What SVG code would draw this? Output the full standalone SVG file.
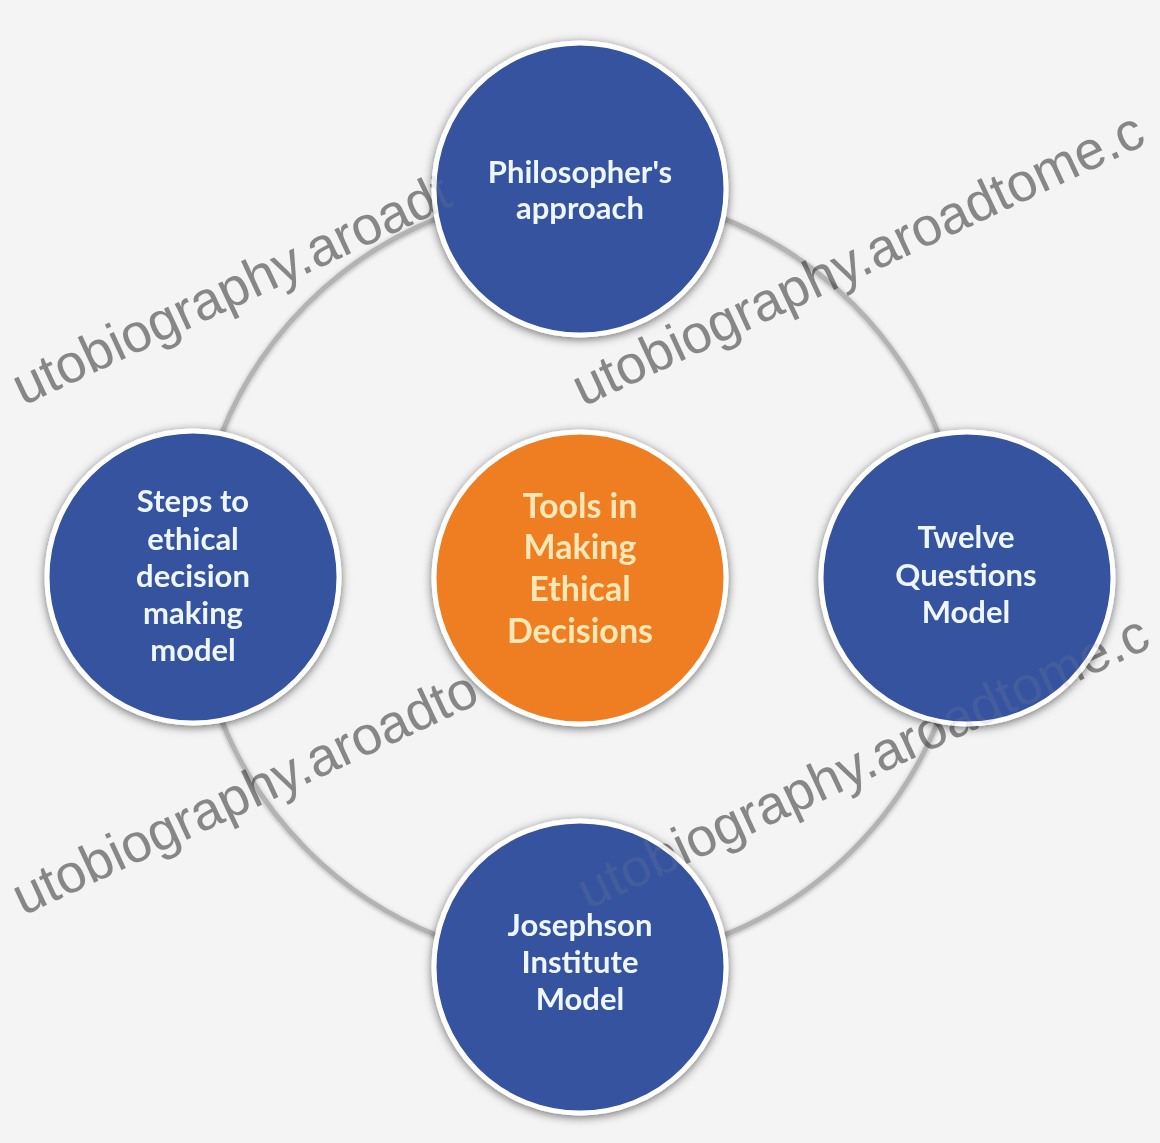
<svg xmlns="http://www.w3.org/2000/svg" xmlns:xlink="http://www.w3.org/1999/xlink" width="1160" height="1143" viewBox="0 0 1160 1143">
  <defs>
    <filter id="shadow" x="-20%" y="-20%" width="140%" height="140%">
      <feDropShadow dx="0" dy="2" stdDeviation="5" flood-color="#000" flood-opacity="0.55"/>
    </filter>
    <filter id="ringShadow" x="-10%" y="-10%" width="120%" height="120%">
      <feDropShadow dx="0" dy="1" stdDeviation="2" flood-color="#000" flood-opacity="0.3"/>
    </filter>
  </defs>
  <style>
    .bg { fill: #f4f4f4; }
    .ring { fill: none; stroke: #b3b3b3; stroke-width: 5; }
    .blue { fill: #35529f; stroke: #ffffff; stroke-width: 5; }
    .orange { fill: #ef7e22; stroke: #ffffff; stroke-width: 5; }
    .lbl { font-family: Lato, "Open Sans", "Liberation Sans", sans-serif; font-weight: 700; font-size: 31px; fill: #eef6ff; text-anchor: middle; }
    .lblc { font-family: Lato, "Open Sans", "Liberation Sans", sans-serif; font-weight: 700; font-size: 34px; fill: #fbe8b6; text-anchor: middle; }
    .wm { font-family: "Liberation Sans", Arial, sans-serif; font-size: 54px; fill: #8c8c8c; mix-blend-mode: multiply; }
  </style>
  <rect class="bg" x="0" y="0" width="1160" height="1143"/>

  <g id="connectors" filter="url(#ringShadow)">
    <path class="ring" d="M580,191 A386,386 0 0 1 966,577"/>
    <path class="ring" d="M966,577 A386,386 0 0 1 580,963"/>
    <path class="ring" d="M580,963 A386,386 0 0 1 194,577"/>
    <path class="ring" d="M194,577 A386,386 0 0 1 580,191"/>
  </g>

  <g id="watermarks">
    <text class="wm" transform="translate(23,406) rotate(-25)">utobiography.aroadt</text>
    <text class="wm" transform="translate(583,407) rotate(-25)">utobiography.aroadtome.c</text>
    <text class="wm" transform="translate(23,916) rotate(-25)">utobiography.aroadto</text>
    <text class="wm" transform="translate(588,910) rotate(-25)">utobiography.aroadtome.c</text>
  </g>

  <g id="node-philosopher" filter="url(#shadow)">
    <circle class="blue" cx="580" cy="189" r="146"/>
    <text class="lbl" x="580" y="183">Philosopher's</text>
    <text class="lbl" x="580" y="219">approach</text>
  </g>

  <g id="node-steps" filter="url(#shadow)">
    <circle class="blue" cx="193" cy="577" r="146"/>
    <text class="lbl" x="193" y="512">Steps to</text>
    <text class="lbl" x="193" y="550">ethical</text>
    <text class="lbl" x="193" y="587">decision</text>
    <text class="lbl" x="193" y="624">making</text>
    <text class="lbl" x="193" y="661">model</text>
  </g>

  <g id="node-center" filter="url(#shadow)">
    <circle class="orange" cx="580" cy="578" r="146"/>
    <text class="lblc" x="580" y="518">Tools in</text>
    <text class="lblc" x="580" y="559">Making</text>
    <text class="lblc" x="580" y="601">Ethical</text>
    <text class="lblc" x="580" y="643">Decisions</text>
  </g>

  <g id="node-twelve" filter="url(#shadow)">
    <circle class="blue" cx="967" cy="578" r="146"/>
    <text class="lbl" x="966" y="548">Twelve</text>
    <text class="lbl" x="966" y="586">Questions</text>
    <text class="lbl" x="966" y="623">Model</text>
  </g>

  <g id="node-josephson" filter="url(#shadow)">
    <circle class="blue" cx="580" cy="967" r="146"/>
    <text class="lbl" x="580" y="936">Josephson</text>
    <text class="lbl" x="580" y="973">Institute</text>
    <text class="lbl" x="580" y="1010">Model</text>
  </g>

  <use href="#watermarks" xlink:href="#watermarks" opacity="0.18"/>
</svg>
